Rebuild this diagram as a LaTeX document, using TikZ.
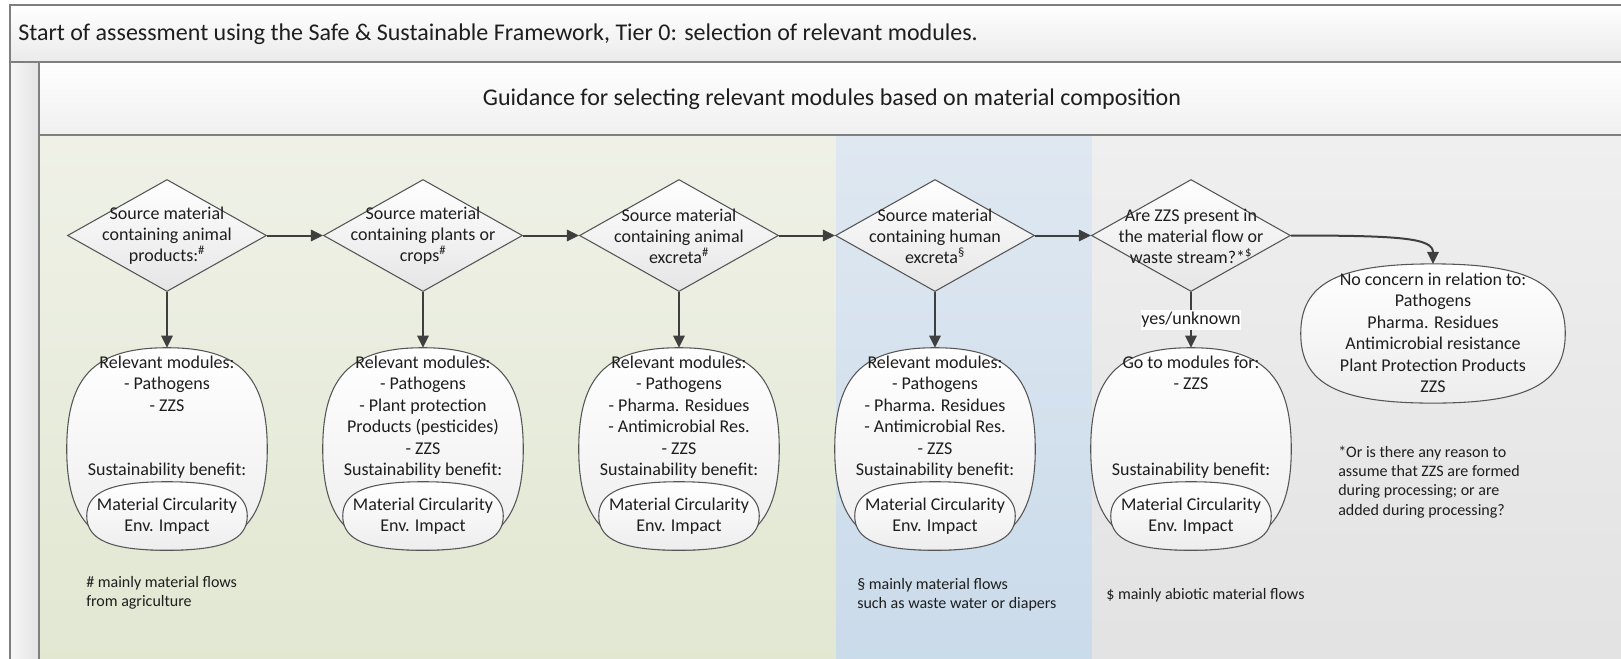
\documentclass[tikz,border=0pt]{standalone}
\usepackage{fontspec}
\setmainfont{Carlito}
\usetikzlibrary{shapes.geometric,arrows.meta,calc}
\definecolor{txt}{HTML}{1E1E1E}
\definecolor{ln}{HTML}{555555}
\definecolor{arrc}{HTML}{3F3F3F}
\definecolor{framec}{HTML}{7F7F7F}
\definecolor{grnT}{HTML}{EFF1E7}
\definecolor{grnB}{HTML}{E1E7D1}
\definecolor{bluT}{HTML}{DFE8F1}
\definecolor{bluB}{HTML}{C9DAEA}
\definecolor{gryT}{HTML}{EFEFEF}
\definecolor{gryB}{HTML}{E2E2E2}
\newcommand\drawsq[2]{%
  \draw[sqline] (#1.north)
   .. controls ($(#1.north)!#2!(#1.north west)$) and ($(#1.west)!#2!(#1.north west)$) .. (#1.west)
   .. controls ($(#1.west)!#2!(#1.south west)$) and ($(#1.south)!#2!(#1.south west)$) .. (#1.south)
   .. controls ($(#1.south)!#2!(#1.south east)$) and ($(#1.east)!#2!(#1.south east)$) .. (#1.east)
   .. controls ($(#1.east)!#2!(#1.north east)$) and ($(#1.north)!#2!(#1.north east)$) .. (#1.north) -- cycle;}
\tikzset{
  sqline/.style={draw=ln, line width=0.8pt, top color=white, bottom color=black!7},
  diam/.style={shape=diamond, draw=ln, line width=0.8pt, top color=white, bottom color=black!10,
    minimum width=149.25pt, minimum height=84pt, inner sep=0pt},
  dtext/.style={align=center, font=\fontsize{13.5}{15.75}\selectfont, text=txt, inner sep=0pt},
  boxtext/.style={align=center, font=\fontsize{13.5}{16.1}\selectfont, text=txt, inner sep=0pt},
  notetext/.style={align=left, anchor=west, font=\fontsize{12}{14.5}\selectfont, text=txt, inner sep=0pt},
  bigtext/.style={font=\fontsize{18}{22}\selectfont, text=txt, inner sep=0pt},
  outerbox/.style={shape=rectangle, minimum width=150pt, minimum height=151.5pt, inner sep=0pt},
  innerbox/.style={shape=rectangle, minimum width=120pt, minimum height=51pt, inner sep=0pt},
  ncbox/.style={shape=rectangle, minimum width=198pt, minimum height=104pt, inner sep=0pt},
  arr/.style={draw=arrc, line width=1.5pt, -{Triangle[length=9pt,width=8.5pt]}},
  yeslbl/.style={boxtext, fill=white, inner xsep=0pt, inner ysep=1.5pt},
  frameline/.style={draw=framec, line width=1.1pt}
}
\begin{document}
\begin{tikzpicture}[x=0.75pt,y=-0.75pt]
\useasboundingbox (0,0) rectangle (1621,658);
% ---------- frame and backgrounds
\fill[top color=white, bottom color=black!8] (10,5) rectangle (1640,62);
\fill[left color=black!3, right color=black!11] (10,62) rectangle (39,680);
\fill[top color=white, bottom color=black!6] (39,62) rectangle (1640,135);
\fill[top color=grnT, bottom color=grnB] (39,135) rectangle (836,680);
\fill[top color=bluT, bottom color=bluB] (836,135) rectangle (1092,680);
\fill[top color=gryT, bottom color=gryB] (1092,135) rectangle (1640,680);
\draw[frameline] (1640,5) -- (10,5) -- (10,680);
\draw[frameline] (10,62) -- (1640,62);
\draw[frameline] (39,62) -- (39,680);
\draw[frameline] (39,135) -- (1640,135);
\node[bigtext, anchor=west] (title) at (18,34) {Start of assessment using the Safe \& Sustainable Framework, Tier 0: selection of relevant modules.};
\node[bigtext] (head) at (832,99) {Guidance for selecting relevant modules based on material composition};
% ---------- diamonds
\node[diam] (d1) at (167,235.5) {};
\node[diam] (d2) at (423,235.5) {};
\node[diam] (d3) at (679,235.5) {};
\node[diam] (d4) at (935,235.5) {};
\node[diam] (d5) at (1191,235.5) {};
\node[dtext] (d1t) at (167,236) {Source material\\containing animal\\products:\textsuperscript{\#}};
\node[dtext] (d2t) at (423,236) {Source material\\containing plants or\\crops\textsuperscript{\#}};
\node[dtext] (d3t) at (679,236) {Source material\\containing animal\\excreta\textsuperscript{\#}};
\node[dtext] (d4t) at (935,236) {Source material\\containing human\\excreta\textsuperscript{\S}};
\node[dtext] (d5t) at (1191,236) {Are ZZS present in\\the material flow or\\waste stream?*\textsuperscript{\$}};
% ---------- module boxes
\node[outerbox] (b1) at (167,449) {};
\node[outerbox] (b2) at (423,449) {};
\node[outerbox] (b3) at (679,449) {};
\node[outerbox] (b4) at (935,449) {};
\node[outerbox] (b5) at (1191,449) {};
\drawsq{b1}{0.72}\drawsq{b2}{0.72}\drawsq{b3}{0.72}\drawsq{b4}{0.72}\drawsq{b5}{0.72}
\node[innerbox] (b1i) at (167,516) {};
\node[innerbox] (b2i) at (423,516) {};
\node[innerbox] (b3i) at (679,516) {};
\node[innerbox] (b4i) at (935,516) {};
\node[innerbox] (b5i) at (1191,516) {};
\drawsq{b1i}{0.7}\drawsq{b2i}{0.7}\drawsq{b3i}{0.7}\drawsq{b4i}{0.7}\drawsq{b5i}{0.7}
\node[boxtext] (b1t) at (167,417) {Relevant modules:\\- Pathogens\\- ZZS\\~\\~\\Sustainability benefit:};
\node[boxtext] (b2t) at (423,417) {Relevant modules:\\- Pathogens\\- Plant protection\\Products (pesticides)\\- ZZS\\Sustainability benefit:};
\node[boxtext] (b3t) at (679,417) {Relevant modules:\\- Pathogens\\- Pharma. Residues\\- Antimicrobial Res.\\- ZZS\\Sustainability benefit:};
\node[boxtext] (b4t) at (935,417) {Relevant modules:\\- Pathogens\\- Pharma. Residues\\- Antimicrobial Res.\\- ZZS\\Sustainability benefit:};
\node[boxtext] (b5t) at (1191,417) {Go to modules for:\\- ZZS\\~\\~\\~\\Sustainability benefit:};
\node[boxtext] (b1it) at (b1i) {Material Circularity\\Env. Impact};
\node[boxtext] (b2it) at (b2i) {Material Circularity\\Env. Impact};
\node[boxtext] (b3it) at (b3i) {Material Circularity\\Env. Impact};
\node[boxtext] (b4it) at (b4i) {Material Circularity\\Env. Impact};
\node[boxtext] (b5it) at (b5i) {Material Circularity\\Env. Impact};
% ---------- no concern box
\node[ncbox] (nc) at (1433,333.5) {};
\drawsq{nc}{0.72}
\node[boxtext] (nct) at (1433,333) {No concern in relation to:\\Pathogens\\Pharma. Residues\\Antimicrobial resistance\\Plant Protection Products\\ZZS};
% ---------- connectors
\draw[arr] (d1.east) -- (d2.west);
\draw[arr] (d2.east) -- (d3.west);
\draw[arr] (d3.east) -- (d4.west);
\draw[arr] (d4.east) -- (d5.west);
\draw[arr] (d1.south) -- (b1.north);
\draw[arr] (d2.south) -- (b2.north);
\draw[arr] (d3.south) -- (b3.north);
\draw[arr] (d4.south) -- (b4.north);
\draw[arr] (d5.south) -- node[yeslbl] (yes) {yes/unknown} (b5.north);
\draw[arr] (d5.east) .. controls (1400,235.5) and (1433,238) .. (nc.north);
% ---------- notes
\node[notetext] (n1) at (86,593) {\# mainly material flows\\from agriculture};
\node[notetext] (n2) at (857,595) {\S{} mainly material flows\\such as waste water or diapers};
\node[notetext] (n3) at (1106,595) {\$ mainly abiotic material flows};
\node[notetext] (n4) at (1338,482) {*Or is there any reason to\\assume that ZZS are formed\\during processing; or are\\added during processing?};
\end{tikzpicture}
\end{document}
